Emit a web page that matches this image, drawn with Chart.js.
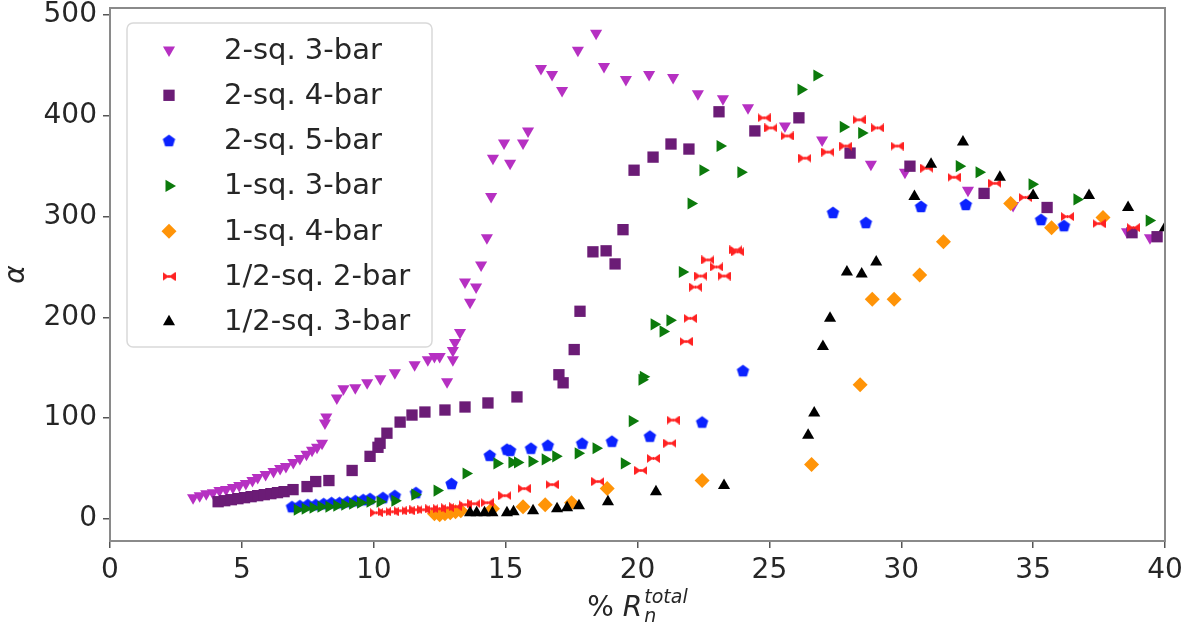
<!DOCTYPE html>
<html>
<head>
<meta charset="utf-8">
<script src="https://cdn.jsdelivr.net/npm/chart.js@4.4.1/dist/chart.umd.min.js"></script>
<style>
  body { margin: 0; background: #fff; }
  canvas { display: block; }
</style>
</head>
<body>
<canvas id="myChart" width="1195" height="631"></canvas>
<script>
const seriesNames = [
  "2-sq. 3-bar",
  "2-sq. 4-bar",
  "2-sq. 5-bar",
  "1-sq. 3-bar",
  "1-sq. 4-bar",
  "1/2-sq. 2-bar",
  "1/2-sq. 3-bar",
];

const xTicks = [0, 5, 10, 15, 20, 25, 30, 35, 40];
const yTicks = [0, 100, 200, 300, 400, 500];

// 2-sq. 3-bar
const sq2bar3X = [3.15, 3.4, 3.65, 3.9, 4.15, 4.4, 4.66, 4.9, 5.15, 5.4, 5.6, 5.9, 6.2, 6.45, 6.67, 6.95, 7.2, 7.45, 7.66, 7.85, 8.04,
  8.15, 8.2, 8.6, 8.85, 9.3, 9.75, 10.25, 10.8, 11.55, 12.05, 12.3, 12.5, 12.78, 13.0, 13.0, 13.08, 13.27, 13.65, 13.46, 13.88,
  14.07, 14.29, 14.45, 14.52, 15.17, 14.94, 15.66, 15.85, 16.34, 16.76, 17.14, 17.74, 18.43, 18.73, 19.56, 20.44, 21.35,
  22.29, 23.24, 24.19, 25.59, 27.0, 28.85, 30.14, 32.53, 34.24, 38.56, 39.43];
const sq2bar3Y = [21, 23, 25, 26, 28, 29, 31, 33, 35, 38, 41, 44, 47, 50, 52, 56, 60, 64, 68, 71, 75,
  95, 101, 120, 129, 130, 135, 139, 145, 153, 158, 161, 161, 136, 158, 167, 175, 185, 215, 235, 230,
  252, 279, 320, 358, 353, 373, 373, 385, 447, 441, 425, 465, 482, 449, 436, 441, 438,
  422, 417, 408, 390, 376, 352, 344, 326, 311, 285, 279];

// 2-sq. 4-bar
const sq2bar4X = [4.1, 4.35, 4.6, 4.85, 5.1, 5.35, 5.6, 5.85, 6.1, 6.35, 6.6, 6.94, 7.47, 7.8, 8.3, 9.18, 9.86, 10.16, 10.24,
  10.5, 11.0, 11.45, 11.94, 12.7, 13.46, 14.33, 15.43, 17.02, 17.18, 17.6, 17.82, 18.31, 18.81, 19.15, 19.45, 19.87,
  20.59, 21.27, 21.95, 23.09, 24.45, 26.12, 28.06, 30.33, 33.14, 35.53, 38.75, 39.7];
const sq2bar4Y = [17, 18, 19, 20, 21, 22, 23, 24, 25, 26, 27, 29, 32, 37, 38, 48, 62, 71, 75,
  85, 96, 103, 106, 108, 111, 115, 121, 143, 135, 168, 206, 265, 266, 253, 287, 346,
  359, 372, 367, 404, 385, 398, 363, 350, 323, 309, 284, 280];

// 2-sq. 5-bar
const sq2bar5X = [6.9, 7.2, 7.5, 7.8, 8.1, 8.4, 8.7, 9.0, 9.3, 9.6, 9.86, 10.35, 10.8, 11.6, 12.95, 14.4, 15.05, 15.17,
  15.96, 16.6, 17.9, 19.03, 20.47, 22.45, 24.0, 27.41, 28.66, 30.75, 32.45, 35.3, 36.17];
const sq2bar5Y = [12, 13, 14, 14, 15, 16, 16, 17, 18, 19, 20, 21, 23, 26, 35, 63, 69, 68,
  70, 73, 75, 77, 82, 96, 147, 304, 294, 310, 312, 297, 291];

// 1-sq. 3-bar
const sq1bar3X = [7.1, 7.4, 7.7, 8.0, 8.3, 8.6, 8.9, 9.2, 9.5, 9.86, 10.24, 10.8, 11.56, 12.4, 13.5, 14.67, 15.24, 15.45,
  16.0, 16.5, 16.9, 17.75, 18.43, 19.5, 19.8, 20.17, 20.22, 20.63, 20.97, 21.23, 21.7, 22.03, 22.48, 23.13, 23.92,
  26.2, 26.8, 27.8, 28.5, 32.2, 32.95, 34.96, 36.66, 39.4];
const sq1bar3Y = [9, 10, 11, 12, 12, 13, 14, 15, 16, 17, 17, 18, 24, 28, 45, 55, 56, 56,
  57, 59, 62, 65, 70, 55, 97, 138, 141, 193, 186, 197, 245, 313, 346, 370, 344,
  426, 440, 389, 383, 350, 344, 332, 317, 296];

// 1-sq. 4-bar
const sq1bar4X = [12.3, 12.5, 12.7, 12.9, 13.1, 13.3, 14.5, 15.66, 16.5, 17.5, 18.85, 22.45, 26.6, 28.44, 28.9, 29.73,
  30.7, 31.6, 34.15, 35.7, 37.65];
const sq1bar4Y = [5, 4, 5, 6, 7, 8, 10, 12, 14, 16, 30, 38, 54, 133, 218, 218,
  242, 275, 313, 289, 299];

// 1/2-sq. 2-bar
const half2barX = [10.1, 10.4, 10.7, 11.0, 11.3, 11.6, 11.9, 12.2, 12.5, 12.8, 13.1, 13.46, 13.8, 14.3, 14.97, 15.7,
  16.76, 18.5, 20.13, 20.6, 21.23, 21.35, 21.84, 22.0, 22.2, 22.4, 22.67, 23.0, 23.28, 23.73, 23.8, 24.8, 25.06,
  25.67, 26.35, 27.22, 27.9, 28.4, 29.1, 29.84, 30.97, 32.0, 33.55, 34.7, 36.3, 37.5, 38.8];
const half2barY = [6, 7, 7, 8, 8, 9, 9, 10, 10, 11, 12, 14, 15, 16, 23, 30,
  34, 37, 48, 60, 75, 98, 176, 199, 230, 241, 257, 250, 241, 267, 265, 398, 388,
  380, 358, 364, 370, 396, 388, 370, 348, 339, 333, 319, 300, 293, 289];

// 1/2-sq. 3-bar
const half3barX = [13.65, 13.9, 14.2, 14.5, 15.05, 15.3, 16.04, 16.95, 17.33, 17.78, 18.88, 20.7, 23.28, 26.47, 26.7,
  27.03, 27.3, 27.94, 28.5, 29.05, 30.5, 31.13, 32.34, 33.74, 35.0, 37.12, 38.6, 40.0];
const half3barY = [6, 6, 6, 6, 6, 7, 8, 10, 11, 13, 17, 27, 33, 83, 105,
  171, 199, 245, 243, 255, 320, 352, 374, 339, 321, 321, 309, 289];

const colors = ["#b630c2", "#6b1c76", "#0b22ff", "#0c7a0c", "#ff9408", "#ff2222", "#000000"];

// custom marker shapes
function makePentagon(color, r) {
  const c = document.createElement("canvas");
  c.width = c.height = Math.ceil(r * 2 + 2);
  const g = c.getContext("2d");
  const cx = c.width / 2, cy = c.height / 2 + 0.5;
  g.beginPath();
  for (let i = 0; i < 5; i++) {
    const a = -Math.PI / 2 + i * 2 * Math.PI / 5;
    g.lineTo(cx + r * Math.cos(a), cy + r * Math.sin(a));
  }
  g.closePath();
  g.fillStyle = color;
  g.fill();
  return c;
}

function makeBowtie(color, w, h) {
  const c = document.createElement("canvas");
  c.width = w;
  c.height = h;
  const g = c.getContext("2d");
  g.fillStyle = color;
  g.beginPath();
  g.moveTo(0, 0);
  g.lineTo(w / 2, h / 2);
  g.lineTo(0, h);
  g.closePath();
  g.fill();
  g.beginPath();
  g.moveTo(w, 0);
  g.lineTo(w / 2, h / 2);
  g.lineTo(w, h);
  g.closePath();
  g.fill();
  g.fillRect(w / 2 - 1, h / 2 - 1.5, 2, 3);
  return c;
}

const markers = [
  { pointStyle: "triangle", rotation: 180, radius: 7 },
  { pointStyle: "rect", rotation: 0, radius: 8 },
  { pointStyle: makePentagon(colors[2], 6.5), rotation: 0, radius: 6 },
  { pointStyle: "triangle", rotation: 90, radius: 7 },
  { pointStyle: "rectRot", rotation: 0, radius: 7.5 },
  { pointStyle: makeBowtie(colors[5], 13, 9), rotation: 0, radius: 6 },
  { pointStyle: "triangle", rotation: 0, radius: 7 },
];

const xs = [sq2bar3X, sq2bar4X, sq2bar5X, sq1bar3X, sq1bar4X, half2barX, half3barX];
const ys = [sq2bar3Y, sq2bar4Y, sq2bar5Y, sq1bar3Y, sq1bar4Y, half2barY, half3barY];

const datasets = seriesNames.map((name, i) => ({
  label: name,
  data: xs[i].map((x, j) => ({ x: x, y: ys[i][j] })),
  backgroundColor: colors[i],
  borderWidth: 0,
  pointStyle: markers[i].pointStyle,
  rotation: markers[i].rotation,
  pointRadius: markers[i].radius,
  order: seriesNames.length - 1 - i,
}));

const FONT = "DejaVu Sans";

const framePlugin = {
  id: "frame",
  afterDatasetsDraw(chart) {
    const { ctx, chartArea: a } = chart;
    ctx.save();
    ctx.strokeStyle = "#8a8a8a";
    ctx.lineWidth = 2;
    ctx.strokeRect(a.left, a.top, a.right - a.left, a.bottom - a.top);
    ctx.restore();
  },
};

const legendPlugin = {
  id: "boxLegend",
  afterDraw(chart) {
    const ctx = chart.ctx;
    ctx.save();
    ctx.beginPath();
    ctx.roundRect(127, 23, 305, 324, 6);
    ctx.fillStyle = "rgba(255,255,255,0.85)";
    ctx.fill();
    ctx.strokeStyle = "#d9d9d9";
    ctx.lineWidth = 1.5;
    ctx.stroke();
    seriesNames.forEach((name, i) => {
      const y = 50 + i * 45.3;
      ctx.fillStyle = colors[i];
      Chart.helpers.drawPoint(ctx, {
        pointStyle: markers[i].pointStyle,
        rotation: markers[i].rotation,
        radius: markers[i].radius,
        borderWidth: 0,
      }, 169, y);
      ctx.fillStyle = "#262626";
      ctx.font = "29px '" + FONT + "'";
      ctx.textBaseline = "middle";
      ctx.textAlign = "left";
      ctx.fillText(name, 224, y + 1);
    });
    ctx.restore();
  },
};

const xTitlePlugin = {
  id: "xTitle",
  afterDraw(chart) {
    const ctx = chart.ctx;
    const a = chart.chartArea;
    ctx.save();
    ctx.fillStyle = "#262626";
    ctx.textBaseline = "alphabetic";
    ctx.textAlign = "left";
    const main = "28px '" + FONT + "'";
    const ital = "italic 28px '" + FONT + "'";
    const small = "italic 19px '" + FONT + "'";
    ctx.font = main;
    const wPct = ctx.measureText("% ").width;
    ctx.font = ital;
    const wR = ctx.measureText("R").width;
    ctx.font = small;
    const wSup = ctx.measureText("total").width;
    const total = wPct + wR + 2 + wSup;
    let x = (a.left + a.right) / 2 - total / 2;
    const base = 616;
    ctx.font = main;
    ctx.fillText("% ", x, base);
    x += wPct;
    ctx.font = ital;
    ctx.fillText("R", x, base);
    x += wR + 2;
    ctx.font = small;
    ctx.fillText("total", x, base - 13);
    ctx.fillText("n", x, base + 6);
    ctx.restore();
  },
};

new Chart("myChart", {
  type: "scatter",
  data: { datasets: datasets },
  options: {
    responsive: false,
    devicePixelRatio: 1,
    animation: false,
    events: [],
    layout: { padding: { top: 8, right: 30, left: 0, bottom: 0 } },
    plugins: {
      legend: { display: false },
      tooltip: { enabled: false },
    },
    scales: {
      x: {
        type: "linear",
        min: 0,
        max: 40,
        afterBuildTicks: (scale) => {
          scale.ticks = xTicks.map((v) => ({ value: v }));
        },
        afterFit: (scale) => {
          scale.height = 90;
          scale.paddingLeft = 0;
          scale.paddingRight = 0;
        },
        grid: {
          drawOnChartArea: false,
          drawTicks: true,
          tickLength: 7,
          color: "#555",
          lineWidth: 1.5,
        },
        border: { display: false },
        ticks: {
          color: "#262626",
          padding: 6,
          maxRotation: 0,
          font: { family: FONT, size: 28 },
        },
      },
      y: {
        type: "linear",
        min: -22,
        max: 507,
        afterBuildTicks: (scale) => {
          scale.ticks = yTicks.map((v) => ({ value: v }));
        },
        afterFit: (scale) => {
          scale.width = 110;
          scale.paddingTop = 0;
          scale.paddingBottom = 0;
        },
        grid: {
          drawOnChartArea: false,
          drawTicks: true,
          tickLength: 7,
          color: "#555",
          lineWidth: 1.5,
        },
        border: { display: false },
        ticks: {
          color: "#262626",
          padding: 6,
          font: { family: FONT, size: 28 },
        },
        title: {
          display: true,
          text: "α",
          color: "#262626",
          padding: { top: 0, bottom: 0 },
          font: { family: FONT, size: 28, style: "italic" },
        },
      },
    },
  },
  plugins: [framePlugin, legendPlugin, xTitlePlugin],
});
</script>
</body>
</html>
